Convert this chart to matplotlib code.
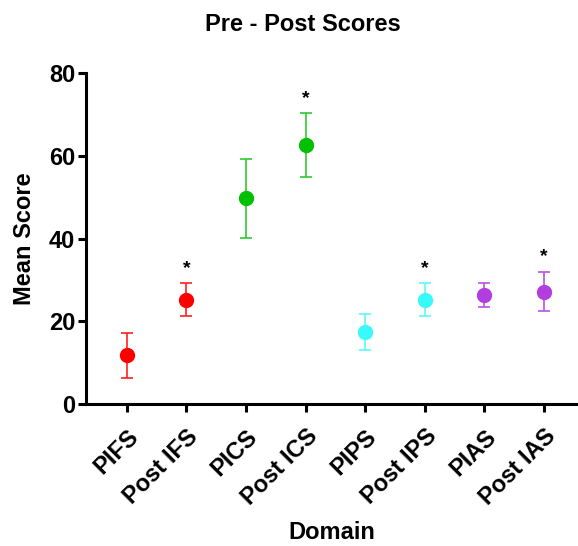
import numpy as np
import matplotlib.pyplot as plt

# data
domains = ["PIFS", "Post IFS", "PICS", "Post ICS", "PIPS", "Post IPS", "PIAS", "Post IAS"]
means = [11.8, 25.3, 49.8, 62.8, 17.4, 25.3, 26.3, 27.2]
err_low = [5.5, 4.1, 9.7, 7.8, 4.4, 3.9, 2.9, 4.6]
err_high = [5.5, 3.9, 9.6, 7.6, 4.4, 3.9, 3.0, 4.8]
significant = [False, True, False, True, False, True, False, True]

point_colors = ["#FF0000", "#FF0000", "#00C000", "#00C000",
                "#38FAFA", "#38FAFA", "#B23EE0", "#B23EE0"]
bar_colors = ["#FF2020", "#FF2020", "#30C830", "#30C830",
              "#5CFAFA", "#5CFAFA", "#BC50E6", "#BC50E6"]

plt.rcParams['font.family'] = ['Liberation Sans', 'DejaVu Sans']
plt.rcParams['font.weight'] = 'bold'

fig = plt.figure(figsize=(5.78, 5.46), dpi=100)
ax = fig.add_axes([0.149, 0.26, 0.851, 0.6054])

x = np.arange(len(domains))
for i in range(len(domains)):
    ax.errorbar(x[i], means[i], yerr=[[err_low[i]], [err_high[i]]], fmt='none',
                ecolor=bar_colors[i], elinewidth=1.2, capsize=4.5, capthick=1.2, zorder=2)
    ax.plot(x[i], means[i], 'o', color=point_colors[i], markersize=10, zorder=3)
    if significant[i]:
        ax.text(x[i], means[i] + err_high[i] + 3.6, "*", ha='center', va='center',
                fontsize=14, fontweight='bold', color='black')

ax.set_xlim(-0.683, 7.57)
ax.set_ylim(0, 80)
ax.set_yticks([0, 20, 40, 60, 80])
ax.set_xticks(x)
ax.set_xticklabels(domains, rotation=45, ha='right', rotation_mode='anchor',
                   fontsize=17, fontweight='bold')
for lab in ax.get_yticklabels():
    lab.set_fontsize(17)
    lab.set_fontweight('bold')

ax.spines['top'].set_visible(False)
ax.spines['right'].set_visible(False)
ax.spines['left'].set_linewidth(2.2)
ax.spines['bottom'].set_linewidth(2.2)
ax.tick_params(axis='both', width=2.2, length=6, color='black')
ax.tick_params(axis='x', pad=9)
ax.tick_params(axis='y', pad=2)

ax.set_xlabel("Domain", fontsize=17, fontweight='bold', labelpad=8)
ax.set_ylabel("Mean Score", fontsize=17, fontweight='bold', labelpad=9)
fig.text(0.524, 0.956, "Pre - Post Scores", ha='center', va='center',
         fontsize=17, fontweight='bold')

fig.savefig("out.png", dpi=100)
